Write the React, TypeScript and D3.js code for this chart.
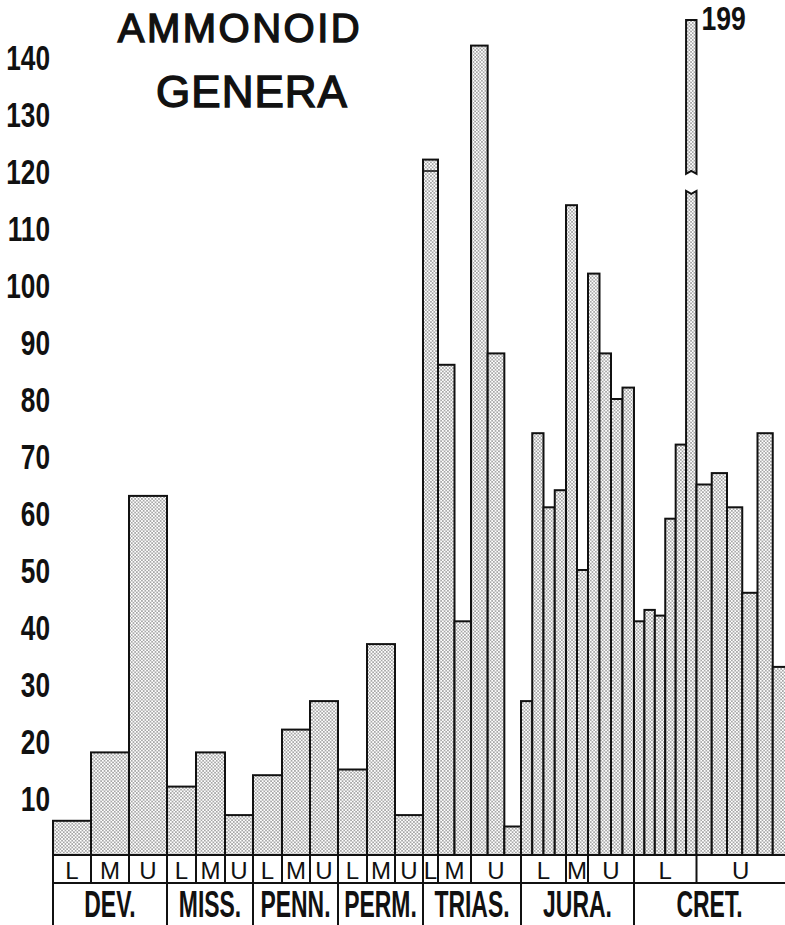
import * as d3 from "d3";

// geological periods and their L / M / U subdivisions
const periods = ["DEV.", "MISS.", "PENN.", "PERM.", "TRIAS.", "JURA.", "CRET."];
const subLabels = [
  ["L", "M", "U"], ["L", "M", "U"], ["L", "M", "U"], ["L", "M", "U"],
  ["L", "M", "U"], ["L", "M", "U"], ["L", "U"],
];
// relative length of each subdivision along the time axis
const subSpans = [
  [38, 38, 38], [29, 29, 28], [29, 28, 28], [29, 28, 28],
  [15, 33, 50], [45, 22, 46], [62.5, 91.5],
];

// number of ammonoid genera, one array per subdivision (one value per zone)
const devGenera = [[6], [18], [63]];
const missGenera = [[12], [18], [7]];
const pennGenera = [[14], [22], [27]];
const permGenera = [[15], [37], [7]];
const triasGenera = [[122], [86, 41], [142, 88, 5]];
const juraGenera = [[27, 74, 61, 64], [114, 50], [102, 88, 80, 82]];
const cretGenera = [[41, 43, 42, 59, 72, 199], [65, 67, 61, 46, 74, 33]];
const generaByPeriod = [devGenera, missGenera, pennGenera, permGenera, triasGenera, juraGenera, cretGenera];

const yTicks = [10, 20, 30, 40, 50, 60, 70, 80, 90, 100, 110, 120, 130, 140];
const triasLInner = 120; // second top line drawn inside the Lower Triassic bar

const W = 785;
const H = 925;
const BASE = 855;
const ROW1 = 883;
const LEFT = 53;
const Y_MAX = 150;
const BREAK_LOW = 116.5;
const BREAK_HIGH = 119.5;
const BREAK_SHIFT = 52.5;

const NUM_FONT = "'Liberation Sans', Arial, sans-serif";

type Sub = { period: number; label: string; start: number; end: number; values: number[] };

const subs: Sub[] = [];
let acc = 0;
periods.forEach((_, pi) => {
  subSpans[pi].forEach((s, si) => {
    subs.push({ period: pi, label: subLabels[pi][si], start: acc, end: acc + s, values: generaByPeriod[pi][si] });
    acc += s;
  });
});
const total = acc;

export default function App() {
  const x = d3.scaleLinear().domain([0, total]).range([LEFT, LEFT + total]);
  const y = d3.scaleLinear().domain([0, Y_MAX]).range([BASE, 0]);

  const bars: { x0: number; x1: number; v: number; key: string }[] = [];
  subs.forEach((s, si) => {
    const w = (s.end - s.start) / s.values.length;
    s.values.forEach((v, i) => {
      bars.push({ x0: x(s.start + i * w), x1: x(s.start + (i + 1) * w), v, key: `${si}-${i}` });
    });
  });

  const periodBounds = periods.map((p, pi) => {
    const ps = subs.filter(s => s.period === pi);
    return { label: p, start: x(ps[0].start), end: x(ps[ps.length - 1].end) };
  });

  const triasL = subs.find(s => s.period === 4 && s.label === "L")!;

  return (
    <svg width={W} height={H} style={{ position: "absolute", left: 0, top: 0, background: "#fff" }}>
      <defs>
        <pattern id="stipple" width={3.4} height={3.4} patternUnits="userSpaceOnUse">
          <rect width={3.4} height={3.4} fill="#fff" />
          <circle cx={0.85} cy={0.85} r={0.62} fill="#222" />
          <circle cx={2.55} cy={2.55} r={0.62} fill="#222" />
        </pattern>
      </defs>

      {/* title */}
      <g fontFamily={NUM_FONT} fill="#111" stroke="#111" strokeWidth={1.4} textAnchor="middle">
        <text x={240} y={42} fontSize={40} letterSpacing={2.5}>AMMONOID</text>
        <text x={252} y={107} fontSize={44} letterSpacing={1}>GENERA</text>
      </g>

      {/* y tick labels */}
      <g fontFamily={NUM_FONT} fontWeight="bold" fontSize={35} fill="#111">
        {yTicks.map(t => (
          <text key={t} transform={`translate(50,${y(t)}) scale(0.75,1)`} dy="0.36em" textAnchor="end">{t}</text>
        ))}
      </g>

      {/* bars */}
      <g stroke="#111" strokeWidth={2} fill="url(#stipple)">
        {bars.map(b => {
          if (b.v <= Y_MAX) {
            return <rect key={b.key} x={b.x0} y={y(b.v)} width={b.x1 - b.x0} height={BASE - y(b.v)} />;
          }
          const xm = (b.x0 + b.x1) / 2;
          const yl = y(BREAK_LOW);
          const yh = y(BREAK_HIGH);
          const yt = y(b.v - BREAK_SHIFT);
          return (
            <g key={b.key}>
              <path d={`M${b.x0},${BASE}V${yl}L${xm},${yl + 3}L${b.x1},${yl}V${BASE}Z`} />
              <path d={`M${b.x0},${yt}H${b.x1}V${yh}L${xm},${yh - 3}L${b.x0},${yh}Z`} />
              <text transform={`translate(${b.x1 + 5},${yt + 10}) scale(0.78,1)`}
                fontFamily={NUM_FONT} fontWeight="bold" fontSize={34} fill="#111" stroke="none">{b.v}</text>
            </g>
          );
        })}
        <line x1={x(triasL.start)} x2={x(triasL.end)} y1={y(triasLInner)} y2={y(triasLInner)} strokeWidth={1.5} />
      </g>

      {/* time scale boxes */}
      <g stroke="#111" strokeWidth={2} fill="none">
        <line x1={LEFT} x2={W} y1={BASE} y2={BASE} />
        <line x1={LEFT} x2={W} y1={ROW1} y2={ROW1} />
        <line x1={LEFT} x2={LEFT} y1={BASE} y2={H} />
        {subs.map((s, i) => x(s.end) < W ? (
          <line key={i} x1={x(s.end)} x2={x(s.end)} y1={BASE} y2={ROW1} />
        ) : null)}
        {periodBounds.map((p, i) => p.end < W ? (
          <line key={i} x1={p.end} x2={p.end} y1={ROW1} y2={H} />
        ) : null)}
      </g>

      <g fontFamily={NUM_FONT} fontSize={24} fill="#111" textAnchor="middle">
        {subs.map((s, i) => (
          <text key={i} x={(x(s.start) + Math.min(x(s.end), W)) / 2} y={879}>{s.label}</text>
        ))}
      </g>
      <g fontFamily={NUM_FONT} fontWeight="bold" fontSize={37} fill="#111" textAnchor="middle">
        {periodBounds.map((p, i) => {
          const cx = (p.start + Math.min(p.end, W)) / 2;
          return (
            <text key={i} transform={`translate(${cx},917) scale(0.62,1)`}>{p.label}</text>
          );
        })}
      </g>
    </svg>
  );
}
